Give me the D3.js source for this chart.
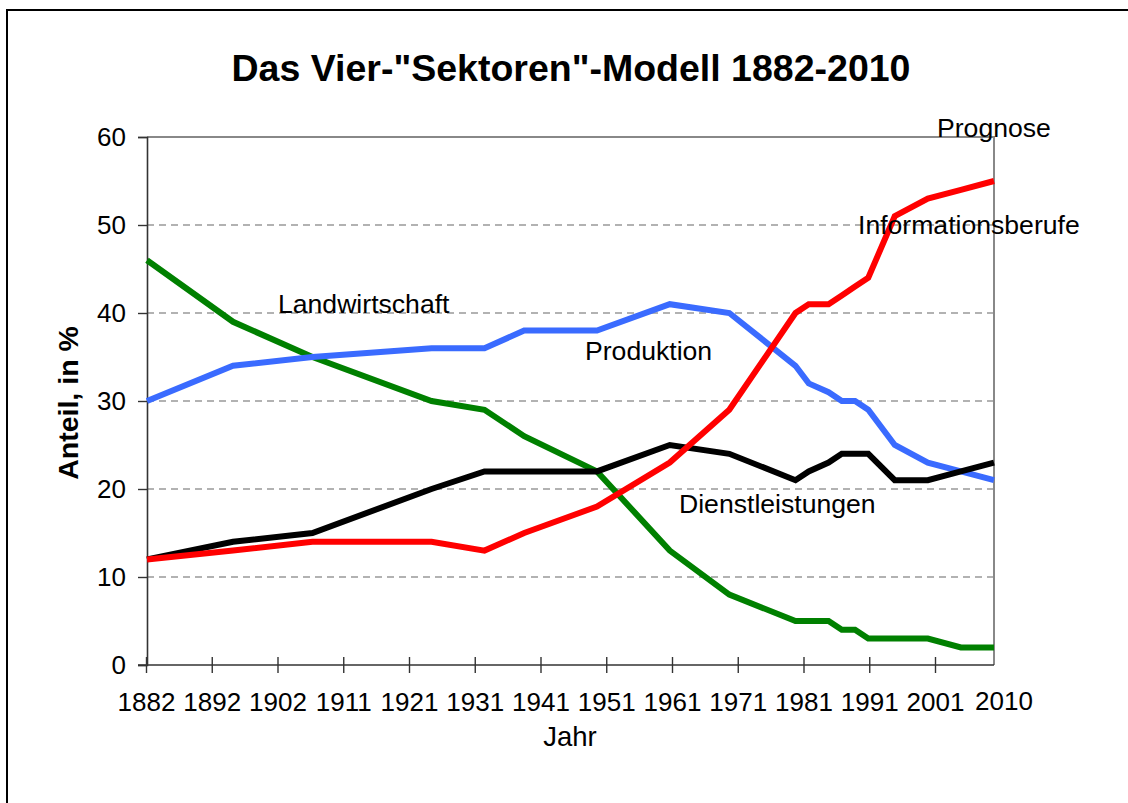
<!DOCTYPE html>
<html>
<head>
<meta charset="utf-8">
<script src="https://cdn.jsdelivr.net/npm/d3@7/dist/d3.min.js"></script>
<style>
  html, body { margin: 0; padding: 0; background: #fff; }
  svg { display: block; }
  text { font-family: Arial, "Liberation Sans", sans-serif; fill: #000; }
</style>
</head>
<body>
<svg id="chart" width="1128" height="803"></svg>
<script>
// ---- data ----
const years = [1882,1895,1907,1925,1933,1939,1950,1961,1970,1980,1982,1985,1987,1989,1991,1995,2000,2005,2010];
const landwirtschaft     = [46,39,35,30,29,26,22,13,8,5,5,5,4,4,3,3,3,2,2];
const produktion         = [30,34,35,36,36,38,38,41,40,34,32,31,30,30,29,25,23,22,21];
const dienstleistungen   = [12,14,15,20,22,22,22,25,24,21,22,23,24,24,24,21,21,22,23];
const informationsberufe = [12,13,14,14,13,15,18,23,29,40,41,41,42,43,44,51,53,54,55];
const xTickLabels = ["1882","1892","1902","1911","1921","1931","1941","1951","1961","1971","1981","1991","2001"];
const lastTickLabel = "2010";
const yTicks = [0,10,20,30,40,50,60];
const title = 'Das Vier-"Sektoren"-Modell 1882-2010';

const svg = d3.select("#chart");
const L = 147, R = 994, T = 137, B = 665;
const FONT = "Arial, 'Liberation Sans', sans-serif";

const x = d3.scaleLinear().domain([1882, 2010]).range([L, R]);
const y = d3.scaleLinear().domain([0, 60]).range([B, T]);
// category tick axis (evenly spaced labels as in the original)
const xCat = d3.scalePoint().domain(xTickLabels).range([L - 1, 935]);

// outer frame
svg.append("path").attr("d", "M7,803V10H1128").attr("fill", "none")
  .attr("stroke", "#000").attr("stroke-width", 2);

// title
svg.append("text").attr("x", 571).attr("y", 81).attr("text-anchor", "middle")
  .attr("font-size", 37.5).attr("font-weight", "bold").text(title);

// gridlines
svg.append("g").selectAll("line").data(yTicks.filter(d => d > 0 && d < 60)).join("line")
  .attr("x1", L).attr("x2", R).attr("y1", d => y(d)).attr("y2", d => y(d))
  .attr("stroke", "#666").attr("stroke-width", 1.1).attr("stroke-dasharray", "7,5");

// plot border top/right
svg.append("path").attr("d", `M${L},${T}H${R}V${B}`).attr("fill", "none")
  .attr("stroke", "#888").attr("stroke-width", 2);

// y axis
const yAxis = d3.axisLeft(y).tickValues(yTicks).tickSize(9).tickPadding(12).tickFormat(d3.format("d"));
const gy = svg.append("g").attr("transform", `translate(${L},0)`).call(yAxis);
gy.select(".domain").attr("stroke", "#333").attr("stroke-width", 1.6);
gy.selectAll(".tick line").attr("stroke", "#333").attr("stroke-width", 1.4);
gy.selectAll(".tick text").attr("font-size", 26).attr("font-family", FONT).attr("fill", "#000");

// x axis
const xAxis = d3.axisBottom(xCat).tickSize(8).tickPadding(20);
const gx = svg.append("g").attr("transform", `translate(0,${B})`).call(xAxis);
gx.select(".domain").attr("stroke", "#333").attr("stroke-width", 1.6)
  .attr("d", `M${L - 9},0H${R}`);
gx.selectAll(".tick line").attr("stroke", "#333").attr("stroke-width", 1.4).attr("y1", -8).attr("y2", 8);
gx.selectAll(".tick text").attr("font-size", 26).attr("font-family", FONT).attr("fill", "#000");
// final category label (2010), placed a bit higher as in the original
svg.append("text").attr("x", x(2010) + 10).attr("y", 710).attr("text-anchor", "middle")
  .attr("font-size", 26).text(lastTickLabel);

// axis titles
svg.append("text").attr("x", 570).attr("y", 746).attr("text-anchor", "middle")
  .attr("font-size", 27.5).text("Jahr");
svg.append("text").attr("transform", "translate(78,403) rotate(-90)").attr("text-anchor", "middle")
  .attr("font-size", 28.5).attr("font-weight", "bold").text("Anteil, in %");

// lines
const series = [
  { name: "Landwirtschaft", values: landwirtschaft, color: "#008000" },
  { name: "Produktion", values: produktion, color: "#3a6bff" },
  { name: "Dienstleistungen", values: dienstleistungen, color: "#000000" },
  { name: "Informationsberufe", values: informationsberufe, color: "#ff0000" }
];
const line = d3.line().x((d, i) => x(years[i])).y(d => y(d));
svg.append("g").selectAll("path").data(series).join("path")
  .attr("d", d => line(d.values)).attr("fill", "none")
  .attr("stroke", d => d.color).attr("stroke-width", 6)
  .attr("stroke-linejoin", "miter");

// series annotations
const ann = [
  { t: "Landwirtschaft", x: 278, y: 313 },
  { t: "Produktion", x: 585, y: 360 },
  { t: "Dienstleistungen", x: 679, y: 513 },
  { t: "Informationsberufe", x: 858, y: 234 },
  { t: "Prognose", x: 937, y: 137 }
];
svg.append("g").selectAll("text").data(ann).join("text")
  .attr("x", d => d.x).attr("y", d => d.y).attr("font-size", 26.6).text(d => d.t);
</script>
</body>
</html>
